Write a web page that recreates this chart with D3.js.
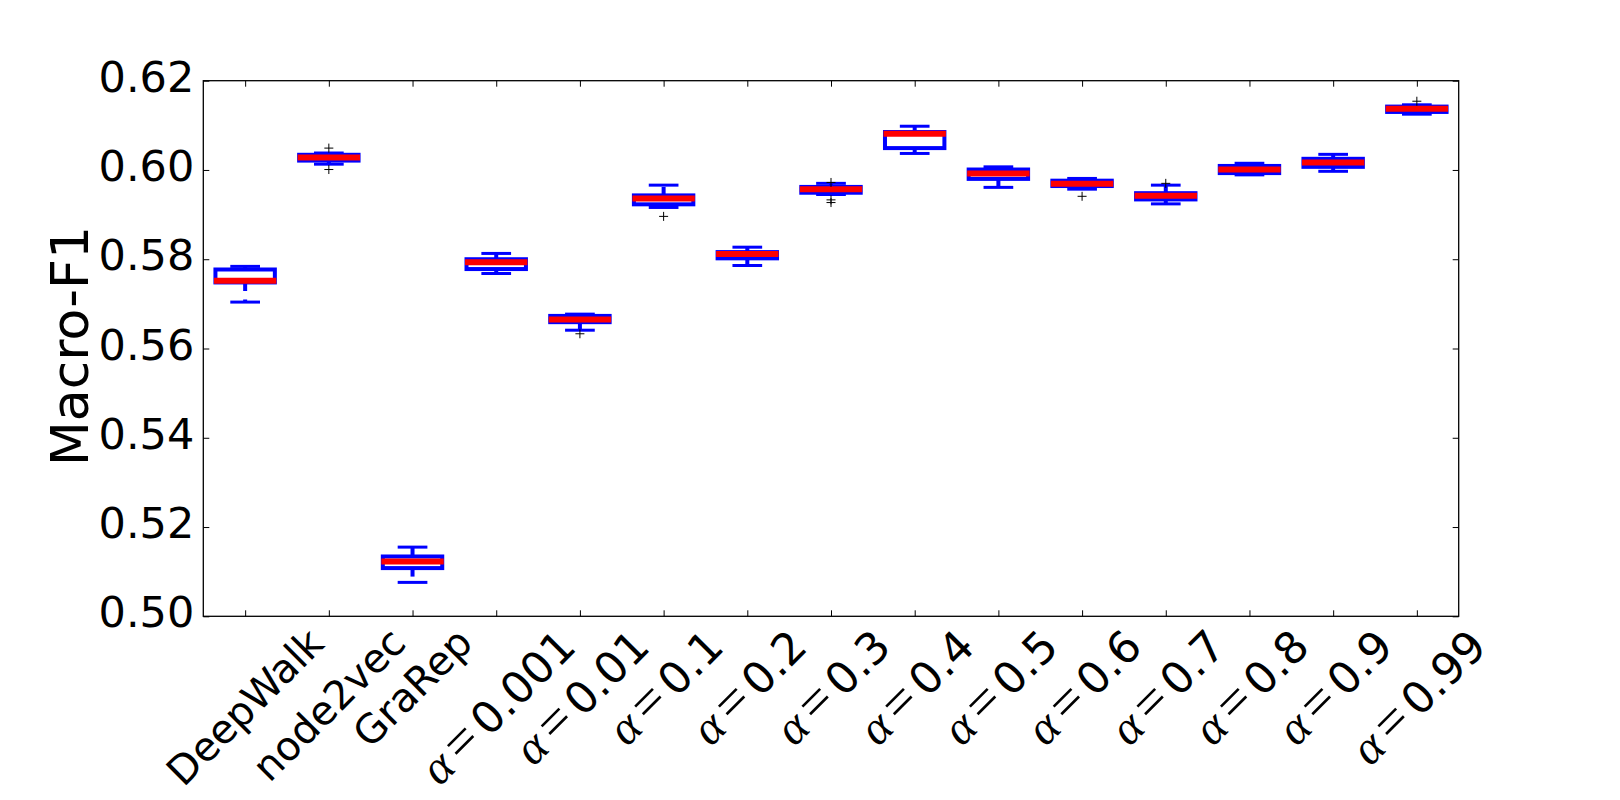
<!DOCTYPE html>
<html><head><meta charset="utf-8">
<script src="https://cdn.jsdelivr.net/npm/d3@7"></script>
<style>body{margin:0;background:#fff} svg{display:block}</style>
</head><body>
<svg id="chart" width="1620" height="800"></svg>
<script>
// ---- data ----
const categories = ["DeepWalk","node2vec","GraRep","0.001","0.01","0.1","0.2","0.3","0.4","0.5","0.6","0.7","0.8","0.9","0.99"];
const isAlpha    = [false,false,false,true,true,true,true,true,true,true,true,true,true,true,true];
const whiskerLow  = [0.5704,0.6013,0.5076,0.5768,0.5641,0.5916,0.5786,0.5945,0.6037,0.5961,0.5957,0.5924,0.5989,0.5997,0.6125];
const q1          = [0.5748,0.6021,0.5108,0.5778,0.5659,0.5923,0.5802,0.5949,0.6049,0.5980,0.5964,0.5934,0.5993,0.6007,0.6130];
const medians     = [0.5752,0.6028,0.5123,0.5793,0.5665,0.5936,0.5812,0.5957,0.6081,0.5992,0.5969,0.5942,0.6001,0.6017,0.6137];
const q3          = [0.5777,0.6034,0.5134,0.5800,0.5673,0.5943,0.5816,0.5962,0.6085,0.6001,0.5976,0.5948,0.6009,0.6025,0.6142];
const whiskerHigh = [0.5784,0.6038,0.5155,0.5813,0.5677,0.5966,0.5827,0.5970,0.6098,0.6007,0.5981,0.5966,0.6015,0.6035,0.6146];
const outliers    = [[],[0.6049,0.6001],[],[],[0.5633],[0.5896],[],[0.5972,0.5933,0.5927],[],[],[0.5941],[0.5970],[],[],[0.6154]];
const yTicks      = [0.50,0.52,0.54,0.56,0.58,0.60,0.62];
const yTickLabels = ["0.50","0.52","0.54","0.56","0.58","0.60","0.62"];
const yLabel = "Macro-F1";

// ---- layout ----
const L = 203.3, R = 1458.7, T = 80.7, B = 616.3;
const svg = d3.select("#chart");
const idx = categories.map((d,i)=>i);
const x = d3.scalePoint().domain(idx).range([L,R]).padding(0.5);
const y = d3.scaleLinear().domain([0.50,0.62]).range([B,T]);
const step = x.step();
const boxW = step*0.71, capW = boxW/2;
const BLUE = "#0000ff", RED = "#ff0000";

// axes ticks (inward, on all four sides)
const fmt = d => yTickLabels[yTicks.indexOf(d)];
const gl = svg.append("g").attr("transform",`translate(${L},0)`)
  .call(d3.axisLeft(y).tickValues(yTicks).tickSize(-6).tickPadding(9).tickFormat(fmt));
gl.select(".domain").remove();
gl.selectAll("text").attr("font-family","DejaVu Sans").attr("font-size",43).attr("fill","#000").attr("dy","0.245em");
const gr = svg.append("g").attr("transform",`translate(${R},0)`)
  .call(d3.axisRight(y).tickValues(yTicks).tickSize(-6).tickFormat(""));
gr.select(".domain").remove();
const gb = svg.append("g").attr("transform",`translate(0,${B})`)
  .call(d3.axisBottom(x).tickSize(-6).tickFormat(""));
gb.select(".domain").remove();
const gt = svg.append("g").attr("transform",`translate(0,${T})`)
  .call(d3.axisTop(x).tickSize(-6).tickFormat(""));
gt.select(".domain").remove();
svg.selectAll(".tick line").attr("stroke","#000").attr("stroke-width",1);

// boxes
const g = svg.append("g");
idx.forEach(i=>{
  const cx = x(i);
  g.append("line").attr("x1",cx).attr("x2",cx).attr("y1",y(q1[i])).attr("y2",y(whiskerLow[i]))
    .attr("stroke",BLUE).attr("stroke-width",4).attr("stroke-dasharray","8.5,8.5");
  g.append("line").attr("x1",cx).attr("x2",cx).attr("y1",y(q3[i])).attr("y2",y(whiskerHigh[i]))
    .attr("stroke",BLUE).attr("stroke-width",4).attr("stroke-dasharray","8.5,8.5");
  [whiskerLow[i], whiskerHigh[i]].forEach(v=>{
    g.append("line").attr("x1",cx-capW/2).attr("x2",cx+capW/2).attr("y1",y(v)).attr("y2",y(v))
      .attr("stroke",BLUE).attr("stroke-width",3);
  });
  g.append("rect").attr("x",cx-boxW/2).attr("width",boxW)
    .attr("y",y(q3[i])).attr("height",Math.max(0.01,y(q1[i])-y(q3[i])))
    .attr("fill","none").attr("stroke",BLUE).attr("stroke-width",4);
  g.append("line").attr("x1",cx-boxW/2-1.5).attr("x2",cx+boxW/2+1.5).attr("y1",y(medians[i])).attr("y2",y(medians[i]))
    .attr("stroke",RED).attr("stroke-width",6);
  outliers[i].forEach(v=>{
    g.append("path").attr("d",`M${cx-4.5},${y(v)}H${cx+4.5}M${cx},${y(v)-4.5}V${y(v)+4.5}`)
      .attr("stroke","#000").attr("stroke-width",1).attr("fill","none");
  });
});

// frame
svg.append("rect").attr("x",L).attr("y",T).attr("width",R-L).attr("height",B-T)
  .attr("fill","none").attr("stroke","#000").attr("stroke-width",1.3);

// x tick labels, rotated 45°, centred on ticks
idx.forEach(i=>{
  const grp = svg.append("g");
  const inner = grp.append("g").attr("transform","rotate(-45)");
  const t = inner.append("text").attr("fill","#000").attr("text-anchor","start");
  if (!isAlpha[i]) {
    t.attr("font-family","DejaVu Sans").attr("font-size",40).text(categories[i]);
  } else {
    t.append("tspan").attr("font-family","Liberation Serif").attr("font-style","italic").attr("font-size",48).text("α");
    t.append("tspan").attr("font-family","Liberation Serif").attr("font-size",54).attr("dx",7).text("=");
    t.append("tspan").attr("font-family","DejaVu Sans").attr("font-size",44).attr("dx",7).text(categories[i]);
  }
  const bb = inner.node().getBoundingClientRect();
  const topTarget = isAlpha[i] ? 615 : 619;
  grp.attr("transform",`translate(${x(i) - (bb.left + bb.width/2)},${topTarget - bb.top})`);
});

// y label
svg.append("text").attr("transform",`translate(88,346) rotate(-90)`)
  .attr("text-anchor","middle").attr("font-family","DejaVu Sans").attr("font-size",52).attr("fill","#000")
  .text(yLabel);
</script>
</body></html>
